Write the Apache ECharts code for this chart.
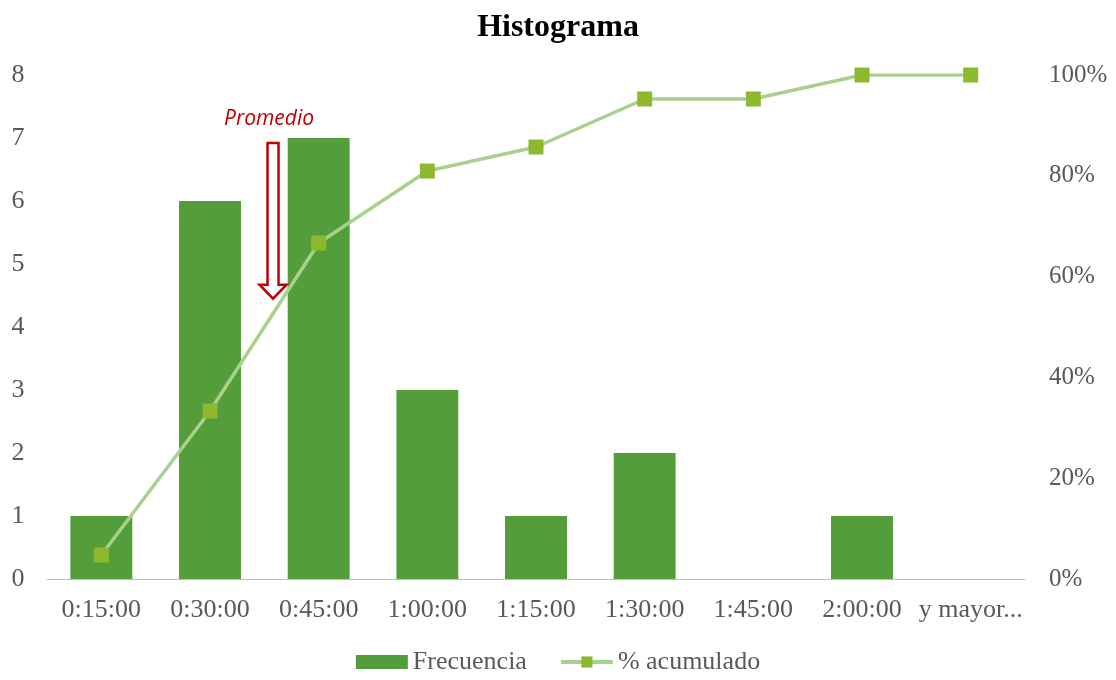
<!DOCTYPE html>
<html>
<head>
<meta charset="utf-8">
<script src="https://cdn.jsdelivr.net/npm/echarts@6/dist/echarts.min.js"></script>
<style>
  html, body { margin: 0; padding: 0; background: #fff; }
  #chart { width: 1116px; height: 680px; }
</style>
</head>
<body>
<div id="chart"></div>
<script>
// Histogram bins (upper limit of each interval)
const categories = ['0:15:00', '0:30:00', '0:45:00', '1:00:00', '1:15:00', '1:30:00', '1:45:00', '2:00:00', 'y mayor...'];
// Frequency per bin
const frecuencia = [1, 6, 7, 3, 1, 2, 0, 1, 0];
// Cumulative percentage per bin
const acumulado = [4.76, 33.33, 66.67, 80.95, 85.71, 95.24, 95.24, 100, 100];
// Position of the average marker, as a fractional category index, and its vertical span (left-axis units)
const promedioIndex = 1.58;
const promedioTop = 6.92;
const promedioTip = 4.45;

const serif = '"Liberation Serif", "Times New Roman", serif';
const labelColor = '#595959';

const chart = echarts.init(document.getElementById('chart'));

chart.setOption({
  animation: false,
  backgroundColor: '#fff',
  title: {
    text: 'Histograma',
    left: 'center',
    top: 7,
    textStyle: { fontFamily: serif, fontSize: 32, fontWeight: 'bold', color: '#000' }
  },
  legend: {
    bottom: 0,
    left: 'center',
    itemWidth: 52,
    itemHeight: 14,
    itemGap: 32,
    textStyle: { fontFamily: serif, fontSize: 26, color: labelColor },
    data: [
      { name: 'Frecuencia', icon: 'rect' },
      { name: '% acumulado', lineStyle: { width: 4 } }
    ]
  },
  grid: { left: 47, right: 91, top: 75, bottom: 101 },
  xAxis: {
    type: 'category',
    data: categories,
    axisLine: { lineStyle: { color: '#BFBFBF', width: 1 } },
    axisTick: { show: false },
    axisLabel: { fontFamily: serif, fontSize: 26, color: labelColor, margin: 18, interval: 0 }
  },
  yAxis: [
    {
      type: 'value',
      min: 0, max: 8, interval: 1,
      axisLine: { show: false },
      axisTick: { show: false },
      splitLine: { show: false },
      axisLabel: { fontFamily: serif, fontSize: 26, color: labelColor, margin: 29, align: 'center' }
    },
    {
      type: 'value',
      min: 0, max: 100, interval: 20,
      axisLine: { show: false },
      axisTick: { show: false },
      splitLine: { show: false },
      axisLabel: {
        fontFamily: serif, fontSize: 25, color: labelColor, margin: 24,
        formatter: v => v + '%'
      }
    }
  ],
  series: [
    {
      name: 'Frecuencia',
      type: 'bar',
      data: frecuencia,
      barWidth: '57%',
      itemStyle: { color: '#539D3B' },
      z: 2
    },
    {
      name: '% acumulado',
      type: 'line',
      yAxisIndex: 1,
      data: acumulado,
      symbol: 'rect',
      symbolSize: 15,
      lineStyle: { color: '#A9D18E', width: 3.5 },
      itemStyle: { color: '#8DB92E' },
      z: 3
    }
  ]
});

// Average marker: hollow red arrow with its label, placed through the axes
function drawPromedio() {
  const i0 = Math.floor(promedioIndex);
  const frac = promedioIndex - i0;
  const pa = chart.convertToPixel({ xAxisIndex: 0, yAxisIndex: 0 }, [i0, promedioTop]);
  const pb = chart.convertToPixel({ xAxisIndex: 0, yAxisIndex: 0 }, [i0 + 1, promedioTip]);
  const x = pa[0] + (pb[0] - pa[0]) * frac;
  const yTop = pa[1];
  const yTip = pb[1];
  const shaftHalf = 5.5, headHalf = 13.5, headH = 14;
  const pts = [
    [x - shaftHalf, yTop], [x + shaftHalf, yTop],
    [x + shaftHalf, yTip - headH], [x + headHalf, yTip - headH],
    [x, yTip],
    [x - headHalf, yTip - headH], [x - shaftHalf, yTip - headH]
  ];
  chart.setOption({
    graphic: [
      {
        type: 'polygon',
        z: 10,
        shape: { points: pts },
        style: { fill: '#fff', stroke: '#C00000', lineWidth: 2.5 }
      },
      {
        type: 'text',
        z: 10,
        x: x - 4,
        y: yTop - 24,
        style: {
          text: 'Promedio',
          fill: '#C00000',
          font: 'italic 21px "Open Sans", "Liberation Sans", sans-serif',
          align: 'center',
          verticalAlign: 'middle'
        }
      }
    ]
  });
}
drawPromedio();
</script>
</body>
</html>
